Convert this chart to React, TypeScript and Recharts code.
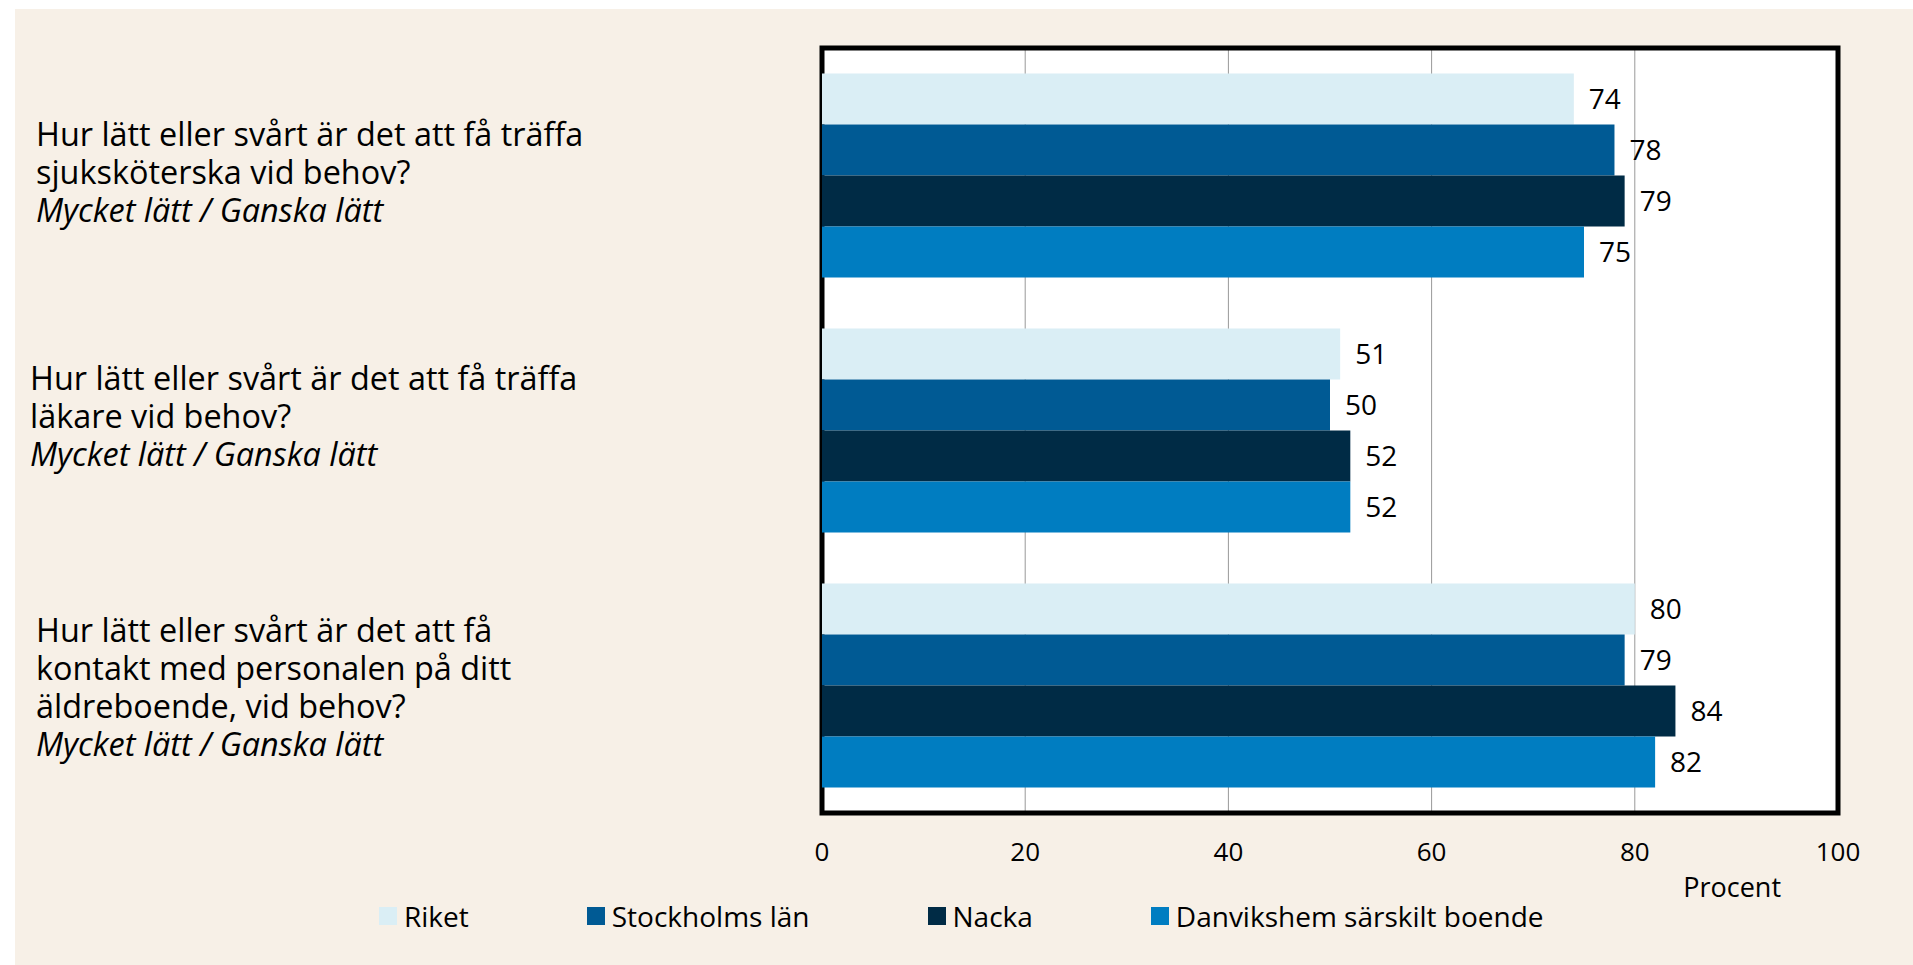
import { BarChart, Bar, XAxis, YAxis, CartesianGrid, LabelList, ReferenceArea, Label } from 'recharts';

// Frågor (kategorier) och radbrytningar som i originalet
const questions = [
    'Hur lätt eller svårt är det att få träffa sjuksköterska vid behov?',
    'Hur lätt eller svårt är det att få träffa läkare vid behov?',
    'Hur lätt eller svårt är det att få kontakt med personalen på ditt äldreboende, vid behov?',
];
const questionLines = [
    ['Hur lätt eller svårt är det att få träffa', 'sjuksköterska vid behov?'],
    ['Hur lätt eller svårt är det att få träffa', 'läkare vid behov?'],
    ['Hur lätt eller svårt är det att få', 'kontakt med personalen på ditt', 'äldreboende, vid behov?'],
];
const answerLabel = 'Mycket lätt / Ganska lätt';

const seriesNames = ['Riket', 'Stockholms län', 'Nacka', 'Danvikshem särskilt boende'];
const riket = [74, 51, 80];
const stockholm = [78, 50, 79];
const nacka = [79, 52, 84];
const danvikshem = [75, 52, 82];

const xTicks = [0, 20, 40, 60, 80, 100];

const COLORS = ['#DAEEF5', '#005A94', '#002B45', '#007DC1'];
const KEYS = ['riket', 'stockholm', 'nacka', 'danvikshem'];

const data = questions.map((q, i) => ({
    question: q,
    riket: riket[i],
    stockholm: stockholm[i],
    nacka: nacka[i],
    danvikshem: danvikshem[i],
}));

const FONT = '"Open Sans", "Noto Sans", sans-serif';

// small nudges so the text blocks sit like in the original
const labelX = [36, 30, 36];
const labelShift = [-3, -14, 2];

function QuestionTick(props: any) {
    const { y, payload } = props;
    const i = questions.indexOf(payload.value);
    if (i < 0) return null;
    const all = [...questionLines[i], answerLabel];
    const lineH = 38;
    const startY = y + labelShift[i] - ((all.length - 1) * lineH) / 2 + 11;
    return (
        <text x={labelX[i]} y={startY} fontSize={32.4} fill="#000" fontFamily={FONT}>
            {all.map((t, k) => (
                <tspan key={k} x={labelX[i]} y={startY + k * lineH} fontStyle={k === all.length - 1 ? 'italic' : 'normal'}>
                    {t}
                </tspan>
            ))}
        </text>
    );
}

function ChartLegend() {
    return (
        <div style={{ position: 'absolute', left: 379, top: 897, display: 'flex', alignItems: 'center', fontFamily: FONT, fontSize: 28, color: '#000', lineHeight: '38px' }}>
            {seriesNames.map((n, i) => (
                <div key={n} style={{ display: 'flex', alignItems: 'center', marginRight: 118 }}>
                    <span style={{ display: 'inline-block', width: 18, height: 18, background: COLORS[i], marginRight: 7 }} />
                    <span>{n}</span>
                </div>
            ))}
        </div>
    );
}

export default function App() {
    return (
        <div style={{ position: 'absolute', left: 0, top: 0, width: 1913, height: 965, background: '#fff', overflow: 'hidden' }}>
            <div style={{ position: 'absolute', left: 15, top: 9, right: 0, bottom: 0, background: '#F7F0E7' }} />
            <div style={{ position: 'absolute', left: 0, top: 0 }}>
                <BarChart
                    width={1913}
                    height={965}
                    data={data}
                    layout="vertical"
                    margin={{ top: 48, right: 75, left: 22, bottom: 11 }}
                    barCategoryGap="10%"
                    barGap={0}
                >
                    <CartesianGrid horizontal={false} stroke="#999" fill="#fff" fillOpacity={1} />
                    <XAxis
                        type="number"
                        domain={[0, 100]}
                        ticks={xTicks}
                        axisLine={false}
                        tickLine={false}
                        tickMargin={24}
                        height={141}
                        tick={{ fontSize: 26, fill: '#000', fontFamily: FONT }}
                    >
                        <Label value="Procent" position="insideBottomRight" offset={57} fontSize={27} fill="#000" fontFamily={FONT} />
                    </XAxis>
                    <YAxis
                        type="category"
                        dataKey="question"
                        width={800}
                        axisLine={false}
                        tickLine={false}
                        tick={<QuestionTick />}
                        interval={0}
                    />
                    {KEYS.map((k, i) => (
                        <Bar key={k} dataKey={k} name={seriesNames[i]} fill={COLORS[i]} isAnimationActive={false}>
                            <LabelList dataKey={k} position="right" offset={15} fill="#000" fontSize={28} fontFamily={FONT} />
                        </Bar>
                    ))}
                    <ReferenceArea x1={0} x2={100} fill="none" fillOpacity={0} stroke="#000" strokeWidth={5} ifOverflow="visible" />
                </BarChart>
            </div>
            <ChartLegend />
        </div>
    );
}
